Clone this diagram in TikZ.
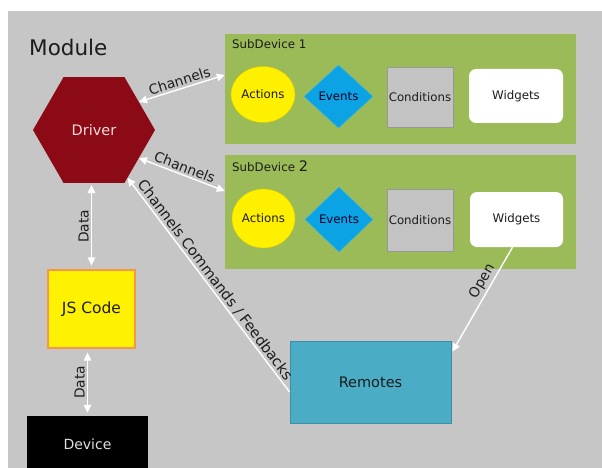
\documentclass[tikz,border=0pt]{standalone}
\usepackage{fontspec}
\setmainfont{DejaVu Sans}
\usetikzlibrary{shapes.geometric,arrows.meta,calc}

\definecolor{bggray}{HTML}{C6C6C6}
\definecolor{drivered}{HTML}{8C0A16}
\definecolor{drivertext}{HTML}{F2DCDB}
\definecolor{subgreen}{HTML}{9BBB59}
\definecolor{actyellow}{HTML}{FFF000}
\definecolor{evblue}{HTML}{0BA3E3}
\definecolor{condgray}{HTML}{C3C3C3}
\definecolor{condedge}{HTML}{979797}
\definecolor{jsorange}{HTML}{F79646}
\definecolor{remblue}{HTML}{4BACC6}
\definecolor{remedge}{HTML}{3A8FA6}
\definecolor{ink}{HTML}{1C1C1C}

\tikzset{
  fs/.style={font=\fontsize{#1}{#1}\selectfont},
  part/.style={inner sep=0pt, text=ink, fs=11.8},
  subbox/.style={rectangle, fill=subgreen, inner sep=0pt},
  actshape/.style={part, ellipse, fill=actyellow, draw=actyellow!85!black, line width=0.4pt},
  evshape/.style={part, diamond, fill=evblue, draw=evblue!80!white, line width=0.4pt, text=black!85!blue},
  condshape/.style={part, rectangle, fill=condgray, draw=condedge, line width=0.8pt},
  widshape/.style={part, rectangle, rounded corners=7pt, fill=white},
  link/.style={draw=white, line width=1.4pt},
  dbl/.style={link, {Triangle[length=8pt,width=7.5pt]}-{Triangle[length=8pt,width=7.5pt]}},
  sgl/.style={link, -{Triangle[length=8pt,width=7.5pt]}},
  linklabel/.style={fs=13.8, text=ink, inner sep=2pt, sloped}
}

\begin{document}
\begin{tikzpicture}[x=1pt, y=-1pt]
\useasboundingbox (0,0) rectangle (602,468);
\fill[white] (0,0) rectangle (602,468);
\fill[bggray] (8,11) rectangle (602,468);

% module title
\node[anchor=west, inner sep=0pt, fs=21.5, text=ink] (module) at (29,47) {Module};

% driver
\node[regular polygon, regular polygon sides=6, minimum size=122pt, inner sep=0pt,
      fill=drivered, text=drivertext, fs=14.5] (driver) at (94,130) {Driver};

% sub devices
\node[subbox, minimum width=351pt, minimum height=110pt] (sub1) at (400.5,89) {};
\node[subbox, minimum width=351pt, minimum height=114pt] (sub2) at (400.5,212) {};
\node[part, anchor=west] (sub1name) at (232,44) {SubDevice 1};
\node[part, anchor=west] (sub2name) at (232,166) {SubDevice {\fontsize{14.5}{14.5}\selectfont 2}};

% first sub device contents
\node[actshape, minimum width=64pt, minimum height=56pt] (act1) at (263,94.5) {Actions};
\node[evshape, minimum width=69pt, minimum height=63pt] (ev1) at (338.5,96.5) {Events};
\node[condshape, minimum width=66pt, minimum height=60pt] (cond1) at (420,97) {Conditions};
\node[widshape, minimum width=94pt, minimum height=54pt] (wid1) at (516,96) {Widgets};

% second sub device contents
\node[actshape, minimum width=63pt, minimum height=59pt] (act2) at (263.5,218.5) {Actions};
\node[evshape, minimum width=68pt, minimum height=65pt] (ev2) at (339,219.5) {Events};
\node[condshape, minimum width=66pt, minimum height=62pt] (cond2) at (420,220) {Conditions};
\node[widshape, minimum width=93pt, minimum height=55pt] (wid2) at (516.5,219.5) {Widgets};

% js code, device, remotes
\node[rectangle, fill=yellow, draw=jsorange, line width=1.2pt, minimum width=87pt,
      minimum height=78pt, fs=15.5, text=ink] (js) at (91.5,309) {JS Code};
\node[rectangle, fill=black, minimum width=121pt, minimum height=56pt, fs=14,
      text=black!12] (device) at (87.5,444) {Device};
\node[rectangle, fill=remblue, draw=remedge, line width=0.8pt, minimum width=161pt,
      minimum height=82pt, fs=14.5, text=ink] (remotes) at (370.5,382) {Remotes};

% connectors
\draw[dbl] (driver.32) -- ([yshift=14pt]sub1.west)
  node[midway, above, linklabel] {Channels};
\draw[dbl] (driver.-32) -- ([yshift=21pt]sub2.west)
  node[midway, above, linklabel] {Channels};
\draw[dbl, shorten <=4pt, shorten >=2pt] (js.north) -- (js.north |- driver.south)
  node[midway, above, linklabel] {Data};
\draw[dbl, shorten <=3pt, shorten >=4pt] (device.north) -- (device.north |- js.south)
  node[midway, above, linklabel] {Data};
\draw[sgl] ([yshift=-10pt]remotes.west) -- (driver.-55)
  node[midway, above, linklabel, fs=14.6, inner sep=1.2pt] {Channels Commands / Feedbacks};
\draw[sgl] ([xshift=-4pt]wid2.south) -- ([yshift=-11pt, xshift=1pt]remotes.north east)
  node[pos=0.37, above, linklabel] {Open};
\end{tikzpicture}
\end{document}
